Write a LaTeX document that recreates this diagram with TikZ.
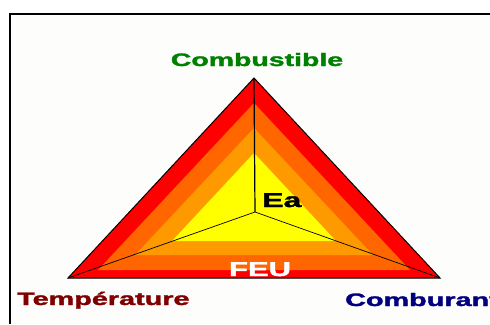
\documentclass[tikz,border=0pt]{standalone}
\usepackage{fontspec}
\setsansfont{Liberation Sans}[BoldFeatures={FakeBold=1.5}]
\usepackage{graphicx}
\definecolor{paper}{HTML}{FDFDFB}
\definecolor{feuA}{HTML}{FF0000}
\definecolor{feuB}{HTML}{FF6600}
\definecolor{feuC}{HTML}{FF9900}
\definecolor{feuD}{HTML}{FFFF00}
\definecolor{combgreen}{HTML}{008000}
\definecolor{tempred}{HTML}{800000}
\definecolor{oxyblue}{HTML}{000080}
\newcommand{\wtxt}[2]{\scalebox{#1}[1]{#2}}
\tikzset{
  lbl/.style={inner sep=0pt,font=\fontsize{18}{18}\selectfont\sffamily\bfseries},
  big/.style={inner sep=0pt,font=\fontsize{20}{20}\selectfont\sffamily\bfseries}
}

\begin{document}
\begin{tikzpicture}[x=1pt,y=-1pt]
  \useasboundingbox (0,0) rectangle (490,324);
  \clip (0,0) rectangle (490,324);
  \fill[white] (0,0) rectangle (490,324);
  \fill[paper] (10,14) rectangle (490,324);
  \draw[line width=2pt] (10,324) -- (10,14) -- (490,14);
  % nested fire layers: colour/apex y/base y/half width
  \foreach \c/\t/\b/\w in {feuA/78/278/186,feuB/103/270/156,feuC/128/255/119,feuD/153/241/82}
    \fill[\c] (254,\t) -- (254-\w,\b) -- (254+\w,\b) -- cycle;
  \coordinate (apex) at (254,78);
  \coordinate (tleft) at (68,278);
  \coordinate (tright) at (440,278);
  \coordinate (ctr) at (255,212);
  \draw[line width=1pt] (apex) -- (tleft) -- (tright) -- cycle;
  \draw[line width=1.2pt] (apex) -- (ctr);
  \draw[line width=.7pt] (tleft) -- (ctr) -- (tright);
  \node[lbl,text=combgreen,anchor=base] (combustible) at (257,66) {\wtxt{1.58}{Combustible}};
  \node[lbl,text=tempred,anchor=base west] (temperature) at (17,305) {\wtxt{1.6}{Température}};
  \node[lbl,text=oxyblue,anchor=base west] (comburant) at (345,306) {\wtxt{1.6}{Comburant}};
  \node[big,anchor=base west] (ea) at (262,207) {\wtxt{1.6}{Ea}};
  \node[big,text=white,anchor=base] (feu) at (260,276) {\wtxt{1.55}{FEU}};
\end{tikzpicture}
\end{document}
